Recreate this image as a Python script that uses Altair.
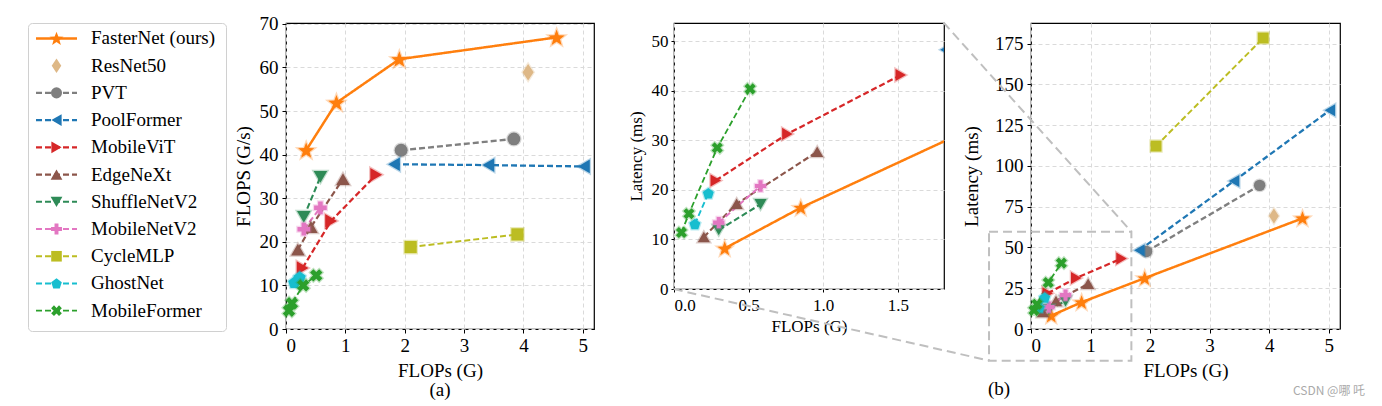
import math
import altair as alt
import pandas as pd

# ---------------- data ----------------
MODELS = ["FasterNet (ours)", "ResNet50", "PVT", "PoolFormer", "MobileViT", "EdgeNeXt",
          "ShuffleNetV2", "MobileNetV2", "CycleMLP", "GhostNet", "MobileFormer"]
COLORS = ["#ff7f0e", "#deb887", "#7f7f7f", "#1f77b4", "#d62728", "#8c564b",
          "#2e8b57", "#e377c2", "#bcbd22", "#17becf", "#2ca02c"]

FLOPS_G = {
    "FasterNet (ours)": [0.34, 0.85, 1.91, 4.56],
    "ResNet50": [4.08],
    "PVT": [1.94, 3.84],
    "PoolFormer": [1.82, 3.41, 5.02],
    "MobileViT": [0.28, 0.76, 1.52],
    "EdgeNeXt": [0.20, 0.42, 0.96],
    "ShuffleNetV2": [0.30, 0.58],
    "MobileNetV2": [0.30, 0.58],
    "CycleMLP": [2.10, 3.90],
    "GhostNet": [0.14, 0.23],
    "MobileFormer": [0.05, 0.10, 0.29, 0.51],
}
THROUGHPUT = {
    "FasterNet (ours)": [41.0, 51.9, 61.9, 66.9],
    "ResNet50": [58.9],
    "PVT": [41.0, 43.6],
    "PoolFormer": [37.8, 37.6, 37.3],
    "MobileViT": [14.0, 24.8, 35.4],
    "EdgeNeXt": [18.2, 23.4, 34.4],
    "ShuffleNetV2": [25.7, 34.9],
    "MobileNetV2": [22.9, 27.8],
    "CycleMLP": [18.8, 21.7],
    "GhostNet": [10.7, 11.9],
    "MobileFormer": [4.2, 5.9, 10.0, 12.3],
}
LATENCY = {
    "FasterNet (ours)": [8.2, 16.4, 31.2, 67.9],
    "ResNet50": [69.3],
    "PVT": [47.5, 88.1],
    "PoolFormer": [48.3, 90.8, 134.2],
    "MobileViT": [21.9, 31.3, 43.2],
    "EdgeNeXt": [10.5, 17.2, 27.7],
    "ShuffleNetV2": [11.9, 17.1],
    "MobileNetV2": [13.4, 20.8],
    "CycleMLP": [112.2, 178.5],
    "GhostNet": [13.1, 19.3],
    "MobileFormer": [11.4, 15.2, 28.5, 40.4],
}

# zoom-box and link lines, in data units of panel (b)
ZOOM_BOX_X = [-0.705, 1.686]
ZOOM_BOX_Y = [-19.4, 59.7]
LINK_X = [-1.47, -6.0]
LINK_X2 = [1.686, -0.705]
LINK_Y = [188.0, 24.5]
LINK_Y2 = [59.7, -19.4]

PANEL_LABELS = ["(a)", "(b)"]
WATERMARK = "CSDN @哪 吒"

# ---------------- styles ----------------
SERIF = "Liberation Serif"


def poly(pts):
    return "M" + "L".join(f"{x:.3f},{y:.3f}" for x, y in pts) + "Z"


STAR = poly([((1.0 if k % 2 == 0 else 0.42) * math.cos(-math.pi / 2 + k * math.pi / 5),
              (1.0 if k % 2 == 0 else 0.42) * math.sin(-math.pi / 2 + k * math.pi / 5) + 0.08) for k in range(10)])
PENTAGON = poly([(math.cos(-math.pi / 2 + k * 2 * math.pi / 5),
                  math.sin(-math.pi / 2 + k * 2 * math.pi / 5) + 0.08) for k in range(5)])
W = 0.36
PLUS_PTS = [(-W, -1), (W, -1), (W, -W), (1, -W), (1, W), (W, W), (W, 1), (-W, 1), (-W, W), (-1, W), (-1, -W), (-W, -W)]
PLUS = poly(PLUS_PTS)
c45 = math.cos(math.pi / 4)
XMARK = poly([(1.05 * (x * c45 - y * c45), 1.05 * (x * c45 + y * c45)) for x, y in PLUS_PTS])
THIN_DIAMOND = poly([(0, -1), (0.66, 0), (0, 1), (-0.66, 0)])

SHAPES = [STAR, THIN_DIAMOND, "circle", "triangle-left", "triangle-right", "triangle-up",
          "triangle-down", PLUS, "square", PENTAGON, XMARK]
BASE_SIZES = [290, 280, 165, 185, 185, 185, 185, 160, 150, 165, 150]
DASHES = [[1, 0]] + [[6, 3]] * 10
LINE_WIDTHS = [2.5] + [1.8] * 10

rows = []
for i, m in enumerate(MODELS):
    for f, t, l in zip(FLOPS_G[m], THROUGHPUT[m], LATENCY[m]):
        rows.append({"model": m, "msize": BASE_SIZES[i], "flops": f, "fps": t, "lat": l})
df = pd.DataFrame(rows)

color_enc = alt.Color("model:N", scale=alt.Scale(domain=MODELS, range=COLORS), legend=None)
stroke_enc = alt.Stroke("model:N", scale=alt.Scale(domain=MODELS, range=COLORS), legend=None)
shape_enc = alt.Shape("model:N", scale=alt.Scale(domain=MODELS, range=SHAPES), legend=None)
dash_enc = alt.StrokeDash("model:N", scale=alt.Scale(domain=MODELS, range=DASHES), legend=None)
lw_enc = alt.StrokeWidth("model:N", scale=alt.Scale(domain=MODELS, range=LINE_WIDTHS), legend=None)


def axis(title, values, fmt, fs, tpad, lpad=4, tick=4):
    return alt.Axis(title=title, values=values, format=fmt, labelFontSize=fs, titleFontSize=fs,
                    titlePadding=tpad, labelPadding=lpad, tickSize=tick, grid=True,
                    labelFont=SERIF, titleFont=SERIF, titleFontWeight="normal")


def data_layers(x, y, factor, clip):
    lines = alt.Chart(df).mark_line(clip=clip).encode(
        x=x, y=y, color=color_enc, strokeDash=dash_enc, strokeWidth=lw_enc,
        detail="model:N", order=alt.Order("flops:Q"))
    pts = alt.Chart(df).transform_calculate(sz=f"datum.msize * {factor}").mark_point(
        filled=True, opacity=1, strokeWidth=2.5, strokeOpacity=0.3, clip=clip).encode(
        x=x, y=y, color=color_enc, stroke=stroke_enc, shape=shape_enc,
        size=alt.Size("sz:Q", scale=None))
    return lines, pts


# ---------------- legend panel ----------------
leg_df = pd.DataFrame({"model": MODELS, "row": list(range(len(MODELS))), "msize": BASE_SIZES})
ly = alt.Y("row:Q", scale=alt.Scale(domain=[-0.566, 10.745], reverse=True, nice=False, zero=False), axis=None)
leg_lines = alt.Chart(leg_df).transform_filter(alt.datum.model != "ResNet50").mark_rule().encode(
    x=alt.value(8), x2=alt.value(49), y=ly, color=color_enc, strokeDash=dash_enc, strokeWidth=lw_enc)
leg_pts = alt.Chart(leg_df).transform_calculate(sz="datum.msize * 0.75").mark_point(
    filled=True, opacity=1, strokeWidth=0).encode(
    x=alt.value(28.5), y=ly, color=color_enc, shape=shape_enc, size=alt.Size("sz:Q", scale=None))
leg_txt = alt.Chart(leg_df).mark_text(align="left", baseline="middle", fontSize=19, font=SERIF,
                                      color="black").encode(x=alt.value(63), y=ly, text="model:N")
legend = alt.layer(leg_lines, leg_pts, leg_txt).properties(
    width=198, height=308, view=alt.ViewBackground(stroke="#d0d0d0", strokeWidth=1, cornerRadius=4))

# ---------------- panel (a) ----------------
xa = alt.X("flops:Q", scale=alt.Scale(domain=[0, 5.19], nice=False, zero=False),
           axis=axis("FLOPs (G)", [0, 1, 2, 3, 4, 5], "d", 19, 6, 3))
ya = alt.Y("fps:Q", scale=alt.Scale(domain=[0, 70.2], nice=False, zero=False),
           axis=axis("FLOPS (G/s)", list(range(0, 71, 10)), "d", 19, 6, 4))
la, pa_ = data_layers(xa, ya, 1.0, False)
lab_df = pd.DataFrame({"t": [PANEL_LABELS[0]]})
lab_a = alt.Chart(lab_df).mark_text(fontSize=19, font=SERIF, color="black", baseline="middle").encode(
    x=alt.value(154), y=alt.value(367), text="t:N")
panel_a = alt.layer(la, pa_, lab_a).properties(width=308, height=306)

# ---------------- inset ----------------
xi = alt.X("flops:Q", scale=alt.Scale(domain=[0, 1.81], nice=False, zero=False),
           axis=axis("FLOPs (G)", [0, 0.5, 1.0, 1.5], ".1f", 17, 5, 5, 3))
yi = alt.Y("lat:Q", scale=alt.Scale(domain=[0, 53.7], nice=False, zero=False),
           axis=axis("Latency (ms)", list(range(0, 51, 10)), "d", 17, 6, 3, 3))
li, pi_ = data_layers(xi, yi, 0.8, True)
inset = alt.layer(li, pi_).properties(width=270, height=266)

# ---------------- panel (b) ----------------
xb = alt.X("flops:Q", scale=alt.Scale(domain=[0, 5.19], nice=False, zero=False),
           axis=axis("FLOPs (G)", [0, 1, 2, 3, 4, 5], "d", 19, 6, 3))
yb = alt.Y("lat:Q", scale=alt.Scale(domain=[0, 187.7], nice=False, zero=False),
           axis=axis("Latency (ms)", list(range(0, 176, 25)), "d", 19, 13, 4))
lb, pb_ = data_layers(xb, yb, 0.8, False)
box_df = pd.DataFrame({"flops": [ZOOM_BOX_X[0]], "flops2": [ZOOM_BOX_X[1]],
                       "lat": [ZOOM_BOX_Y[0]], "lat2": [ZOOM_BOX_Y[1]]})
box = alt.Chart(box_df).mark_rect(filled=False, stroke="#bfbfbf", strokeWidth=2, strokeDash=[9, 5]).encode(
    x=xb, x2="flops2:Q", y=yb, y2="lat2:Q")
link_df = pd.DataFrame({"flops": LINK_X, "flops2": LINK_X2, "lat": LINK_Y, "lat2": LINK_Y2})
links = alt.Chart(link_df).mark_rule(stroke="#bfbfbf", strokeWidth=2, strokeDash=[9, 5]).encode(
    x=xb, x2="flops2:Q", y=yb, y2="lat2:Q")
lab_b = alt.Chart(pd.DataFrame({"t": [PANEL_LABELS[1]]})).mark_text(
    fontSize=19, font=SERIF, color="black", baseline="middle").encode(
    x=alt.value(-32), y=alt.value(366), text="t:N")
wm = alt.Chart(pd.DataFrame({"t": [WATERMARK]})).mark_text(
    fontSize=12, font="Noto Sans CJK SC", color="#aaaaaa", baseline="middle").encode(
    x=alt.value(298), y=alt.value(368), text="t:N")
panel_b = alt.layer(lb, pb_, box, links, lab_b, wm).properties(width=309, height=306)


def spacer(w):
    return alt.Chart(pd.DataFrame({"v": [0]})).mark_point(opacity=0).encode(
        x=alt.value(0), y=alt.value(0)).properties(
        width=w, height=10, view=alt.ViewBackground(stroke="transparent"))


chart = alt.hconcat(legend, spacer(60), panel_a, spacer(80), inset, spacer(87), panel_b,
                    spacing=0, bounds="flush").properties(
    padding={"left": 19, "top": 6, "right": 0, "bottom": 0}
).configure(font=SERIF).configure_view(stroke="black", strokeWidth=1.2).configure_axis(
    domain=False, tickColor="black", tickWidth=1, labelColor="black", titleColor="black",
    gridColor="#dadada", gridDash=[4, 3], gridWidth=1)

chart.save("out.html", embed_options={"renderer": "svg", "actions": False})
